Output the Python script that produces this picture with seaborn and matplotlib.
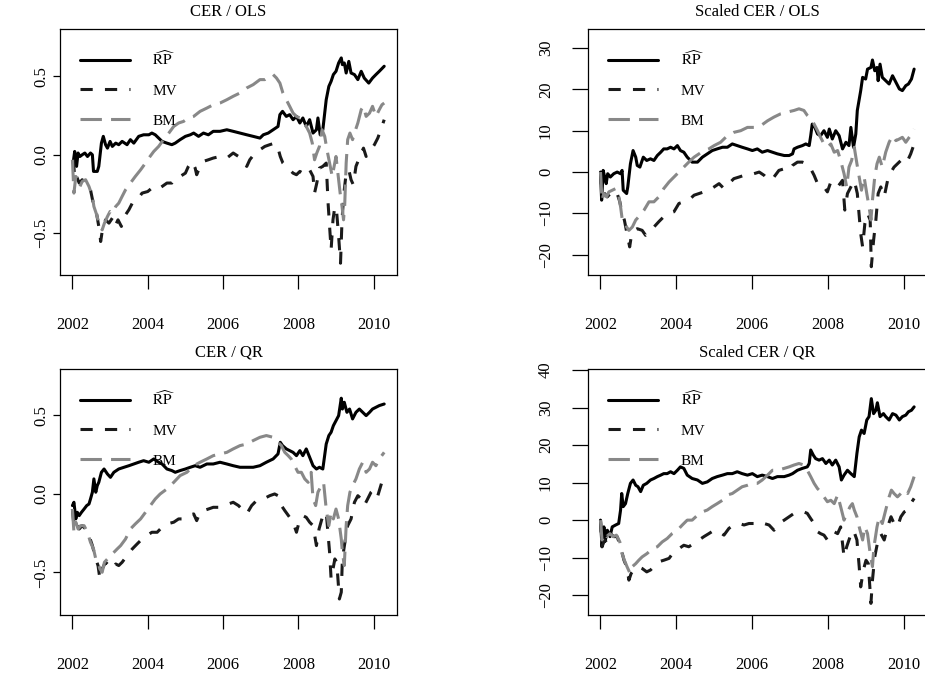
import matplotlib
matplotlib.use("Agg")
import matplotlib.pyplot as plt
import pandas as pd
import seaborn as sns

# ---------------------------------------------------------------------------
# Cumulative CER series (decimal years, values)
# ---------------------------------------------------------------------------
ols_rp_t = [2002.03, 2002.06, 2002.11, 2002.15, 2002.20, 2002.26, 2002.33, 2002.40, 2002.48, 2002.53,
            2002.56, 2002.66, 2002.70, 2002.77, 2002.82, 2002.88, 2002.93, 2003.00, 2003.06, 2003.15,
            2003.23, 2003.32, 2003.45, 2003.54, 2003.63, 2003.76, 2003.89, 2004.03, 2004.11, 2004.20,
            2004.29, 2004.38, 2004.51, 2004.64, 2004.73, 2004.86, 2005.00, 2005.13, 2005.22, 2005.35,
            2005.48, 2005.61, 2005.74, 2005.92, 2006.10, 2006.27, 2006.45, 2006.63, 2006.80, 2006.98,
            2007.07, 2007.20, 2007.33, 2007.46, 2007.51, 2007.58, 2007.68, 2007.77, 2007.86, 2007.95,
            2008.04, 2008.12, 2008.21, 2008.30, 2008.39, 2008.48, 2008.52, 2008.58, 2008.65, 2008.74,
            2008.81, 2008.87, 2008.93, 2009.00, 2009.07, 2009.14, 2009.17, 2009.22, 2009.27, 2009.34,
            2009.40, 2009.49, 2009.58, 2009.67, 2009.75, 2009.87, 2009.97, 2010.06, 2010.15, 2010.28]
ols_rp_v = [-0.032, 0.021, -0.074, 0.011, -0.011, 0.0, 0.011, -0.011, 0.011, 0.0,
            -0.106, -0.106, -0.074, 0.074, 0.117, 0.064, 0.042, 0.085, 0.053, 0.074,
            0.064, 0.085, 0.064, 0.096, 0.074, 0.117, 0.127, 0.127, 0.138, 0.127,
            0.106, 0.085, 0.074, 0.064, 0.074, 0.096, 0.117, 0.127, 0.138, 0.117,
            0.138, 0.127, 0.149, 0.149, 0.159, 0.149, 0.138, 0.127, 0.117, 0.106,
            0.127, 0.138, 0.159, 0.180, 0.255, 0.276, 0.244, 0.255, 0.223, 0.244,
            0.202, 0.234, 0.180, 0.223, 0.138, 0.159, 0.234, 0.127, 0.159, 0.350,
            0.435, 0.467, 0.510, 0.531, 0.584, 0.616, 0.573, 0.584, 0.520, 0.594,
            0.520, 0.510, 0.478, 0.531, 0.488, 0.456, 0.488, 0.510, 0.531, 0.563]

ols_mv_t = [2002.03, 2002.06, 2002.11, 2002.18, 2002.26, 2002.35, 2002.48, 2002.57, 2002.64, 2002.70,
            2002.75, 2002.81, 2002.88, 2002.97, 2003.06, 2003.13, 2003.21, 2003.30, 2003.38, 2003.50,
            2003.59, 2003.72, 2003.85, 2004.00, 2004.11, 2004.25, 2004.38, 2004.51, 2004.64, 2004.73,
            2004.86, 2005.00, 2005.08, 2005.17, 2005.26, 2005.30, 2005.39, 2005.48, 2005.61, 2005.74,
            2005.92, 2006.10, 2006.27, 2006.41, 2006.54, 2006.63, 2006.71, 2006.85, 2006.98, 2007.11,
            2007.24, 2007.37, 2007.46, 2007.52, 2007.59, 2007.68, 2007.77, 2007.86, 2007.95, 2008.04,
            2008.12, 2008.21, 2008.30, 2008.39, 2008.43, 2008.49, 2008.56, 2008.65, 2008.74, 2008.79,
            2008.83, 2008.87, 2008.92, 2008.97, 2009.02, 2009.07, 2009.12, 2009.16, 2009.21, 2009.27,
            2009.34, 2009.40, 2009.46, 2009.53, 2009.60, 2009.67, 2009.73, 2009.80, 2009.87, 2009.93,
            2010.02, 2010.11, 2010.19, 2010.28]
ols_mv_v = [-0.032, -0.159, -0.138, -0.180, -0.159, -0.180, -0.223, -0.329, -0.372, -0.456,
            -0.552, -0.456, -0.414, -0.435, -0.403, -0.456, -0.414, -0.456, -0.393, -0.350,
            -0.308, -0.287, -0.244, -0.234, -0.212, -0.223, -0.202, -0.180, -0.180, -0.149,
            -0.138, -0.117, -0.074, -0.042, -0.085, -0.127, -0.074, -0.042, -0.032, -0.021,
            -0.011, -0.021, 0.011, -0.011, -0.053, -0.074, -0.032, 0.011, 0.032, 0.053,
            0.064, 0.074, 0.042, -0.011, -0.053, -0.074, -0.096, -0.117, -0.127, -0.106,
            -0.117, -0.085, -0.096, -0.138, -0.244, -0.180, -0.085, -0.074, -0.053, -0.308,
            -0.456, -0.605, -0.414, -0.329, -0.372, -0.520, -0.690, -0.414, -0.244, -0.117,
            -0.096, -0.159, -0.191, -0.074, -0.032, 0.011, 0.042, -0.011, 0.011, 0.032,
            0.064, 0.106, 0.159, 0.223]

ols_bm_t = [2002.00, 2002.04, 2002.09, 2002.13, 2002.20, 2002.26, 2002.35, 2002.44, 2002.53, 2002.57,
            2002.63, 2002.68, 2002.73, 2002.79, 2002.85, 2002.93, 2003.00, 2003.06, 2003.15, 2003.23,
            2003.32, 2003.41, 2003.54, 2003.67, 2003.81, 2003.94, 2004.03, 2004.16, 2004.29, 2004.42,
            2004.56, 2004.69, 2004.82, 2004.95, 2005.08, 2005.22, 2005.39, 2005.57, 2005.74, 2005.92,
            2006.10, 2006.27, 2006.45, 2006.63, 2006.80, 2006.98, 2007.11, 2007.24, 2007.33, 2007.42,
            2007.51, 2007.59, 2007.68, 2007.77, 2007.86, 2007.95, 2008.04, 2008.12, 2008.21, 2008.30,
            2008.37, 2008.43, 2008.49, 2008.56, 2008.63, 2008.70, 2008.76, 2008.83, 2008.90, 2008.95,
            2009.00, 2009.06, 2009.11, 2009.16, 2009.20, 2009.23, 2009.27, 2009.31, 2009.37, 2009.44,
            2009.52, 2009.58, 2009.67, 2009.73, 2009.80, 2009.89, 2009.97, 2010.06, 2010.15, 2010.22,
            2010.28]
ols_bm_v = [-0.032, -0.244, -0.138, -0.159, -0.202, -0.170, -0.159, -0.202, -0.265, -0.329,
            -0.372, -0.414, -0.456, -0.478, -0.435, -0.393, -0.361, -0.372, -0.329, -0.308,
            -0.265, -0.223, -0.180, -0.138, -0.096, -0.053, -0.021, 0.021, 0.053, 0.096,
            0.138, 0.180, 0.202, 0.212, 0.234, 0.244, 0.276, 0.297, 0.318, 0.329,
            0.350, 0.372, 0.393, 0.425, 0.446, 0.478, 0.478, 0.499, 0.510, 0.488,
            0.456, 0.393, 0.350, 0.308, 0.265, 0.244, 0.234, 0.223, 0.180, 0.138,
            0.074, -0.032, 0.011, 0.053, 0.159, 0.117, 0.032, -0.053, -0.138, -0.074,
            -0.011, -0.138, -0.244, -0.329, -0.414, -0.329, -0.053, 0.096, 0.138, 0.096,
            0.159, 0.202, 0.287, 0.308, 0.244, 0.265, 0.308, 0.244, 0.287, 0.318,
            0.329]

sols_rp_t = [2002.00, 2002.03, 2002.07, 2002.11, 2002.15, 2002.19, 2002.26, 2002.35, 2002.44, 2002.53,
             2002.57, 2002.60, 2002.69, 2002.72, 2002.79, 2002.86, 2002.93, 2002.97, 2003.04, 2003.13,
             2003.22, 2003.32, 2003.41, 2003.50, 2003.59, 2003.67, 2003.76, 2003.85, 2003.94, 2004.03,
             2004.11, 2004.20, 2004.29, 2004.42, 2004.56, 2004.69, 2004.82, 2004.95, 2005.08, 2005.22,
             2005.35, 2005.48, 2005.61, 2005.74, 2005.88, 2006.01, 2006.14, 2006.27, 2006.41, 2006.54,
             2006.67, 2006.85, 2006.98, 2007.07, 2007.11, 2007.20, 2007.33, 2007.42, 2007.51, 2007.55,
             2007.59, 2007.66, 2007.73, 2007.81, 2007.90, 2007.99, 2008.04, 2008.12, 2008.21, 2008.30,
             2008.39, 2008.48, 2008.56, 2008.61, 2008.68, 2008.74, 2008.78, 2008.87, 2008.92, 2009.00,
             2009.05, 2009.14, 2009.18, 2009.24, 2009.30, 2009.33, 2009.38, 2009.44, 2009.53, 2009.62,
             2009.71, 2009.80, 2009.89, 2009.97, 2010.06, 2010.13, 2010.21, 2010.28]
sols_rp_v = [0.0, -6.8, 0.4, -1.2, -2.8, -0.4, -1.2, -0.4, 0.0, -0.4,
             0.4, -4.4, -5.2, -3.6, 2.0, 5.2, 3.6, 1.6, 1.2, 3.6,
             2.8, 3.2, 2.8, 4.0, 4.8, 5.6, 5.6, 6.0, 5.6, 6.4,
             5.2, 4.8, 3.6, 2.4, 2.4, 3.6, 4.4, 5.2, 5.6, 6.0,
             6.0, 6.8, 6.4, 6.0, 5.6, 5.2, 5.6, 4.8, 5.2, 4.8,
             4.4, 4.0, 4.0, 4.4, 5.6, 6.0, 6.4, 6.8, 6.4, 8.8,
             11.6, 10.8, 9.2, 8.8, 10.0, 8.4, 10.4, 8.0, 10.0, 8.8,
             5.6, 7.2, 6.4, 10.8, 6.0, 9.2, 14.9, 19.7, 22.9, 22.5,
             24.9, 25.3, 27.1, 24.5, 25.3, 22.1, 26.1, 22.9, 22.1, 21.3,
             23.3, 21.7, 20.1, 19.7, 20.9, 21.3, 22.5, 24.9]

sols_mv_t = [2002.00, 2002.04, 2002.11, 2002.18, 2002.26, 2002.35, 2002.44, 2002.51, 2002.57, 2002.63,
             2002.70, 2002.77, 2002.81, 2002.88, 2002.97, 2003.10, 2003.19, 2003.28, 2003.41, 2003.54,
             2003.67, 2003.81, 2003.94, 2004.07, 2004.20, 2004.33, 2004.47, 2004.60, 2004.73, 2004.86,
             2005.00, 2005.13, 2005.26, 2005.39, 2005.52, 2005.66, 2005.79, 2005.92, 2006.05, 2006.19,
             2006.32, 2006.45, 2006.58, 2006.71, 2006.85, 2006.98, 2007.07, 2007.20, 2007.33, 2007.44,
             2007.55, 2007.64, 2007.73, 2007.81, 2007.90, 2007.99, 2008.08, 2008.17, 2008.26, 2008.39,
             2008.45, 2008.52, 2008.61, 2008.70, 2008.78, 2008.87, 2008.92, 2008.98, 2009.05, 2009.12,
             2009.15, 2009.21, 2009.27, 2009.33, 2009.40, 2009.49, 2009.58, 2009.67, 2009.75, 2009.84,
             2009.93, 2010.02, 2010.11, 2010.19, 2010.28]
sols_mv_v = [0.0, -6.0, -5.2, -6.0, -5.2, -4.4, -5.2, -7.2, -10.0, -11.6,
             -14.9, -18.1, -15.7, -14.1, -13.7, -14.1, -15.3, -14.5, -13.3, -12.0,
             -10.8, -10.0, -9.6, -7.6, -7.2, -6.8, -5.6, -5.2, -4.8, -4.4,
             -3.6, -2.8, -4.0, -2.8, -1.6, -1.2, -0.8, -0.8, -0.4, 0.0,
             -0.8, -2.0, -1.2, 0.4, 0.8, 0.4, 1.6, 2.4, 2.4, 2.0,
             0.8, -0.8, -2.8, -2.8, -3.6, -4.8, -2.4, -2.8, -3.6, -2.0,
             -9.2, -5.2, -3.6, -2.0, -5.2, -14.9, -18.1, -12.4, -10.0, -11.6,
             -22.9, -16.5, -11.6, -5.2, -3.6, -6.0, -2.0, 0.0, 1.2, 2.0,
             2.8, 2.0, 2.8, 4.4, 6.8]

sols_bm_t = [2002.00, 2002.04, 2002.09, 2002.16, 2002.22, 2002.31, 2002.40, 2002.48, 2002.53, 2002.57,
             2002.63, 2002.69, 2002.75, 2002.84, 2002.93, 2003.01, 2003.15, 2003.28, 2003.41, 2003.54,
             2003.67, 2003.81, 2003.94, 2004.07, 2004.20, 2004.33, 2004.47, 2004.60, 2004.73, 2004.86,
             2005.00, 2005.17, 2005.35, 2005.52, 2005.70, 2005.88, 2006.05, 2006.23, 2006.41, 2006.58,
             2006.76, 2006.93, 2007.11, 2007.24, 2007.37, 2007.46, 2007.55, 2007.64, 2007.73, 2007.81,
             2007.90, 2007.99, 2008.08, 2008.17, 2008.26, 2008.34, 2008.43, 2008.50, 2008.56, 2008.63,
             2008.70, 2008.77, 2008.83, 2008.89, 2008.96, 2009.03, 2009.09, 2009.14, 2009.18, 2009.24,
             2009.30, 2009.36, 2009.44, 2009.53, 2009.62, 2009.71, 2009.80, 2009.89, 2009.97, 2010.06,
             2010.15, 2010.22, 2010.28]
sols_bm_v = [0.0, -6.8, -5.2, -6.0, -4.8, -4.4, -4.0, -5.6, -8.4, -11.2,
             -11.6, -13.3, -14.1, -13.3, -11.6, -10.8, -9.2, -7.2, -7.2, -6.0,
             -4.0, -2.4, -1.2, 0.0, 1.2, 2.4, 3.6, 4.4, 5.2, 5.6,
             6.4, 7.2, 8.8, 9.6, 10.0, 10.8, 10.8, 11.2, 12.4, 13.3,
             14.1, 14.5, 14.9, 15.3, 14.9, 13.7, 12.9, 11.6, 10.0, 8.4,
             6.8, 6.0, 6.8, 4.8, 5.2, 2.8, -0.4, -3.6, 1.2, 2.8,
             6.0, 2.0, -1.2, -4.4, -1.2, -5.2, -8.4, -11.6, -6.8, -1.2,
             2.0, 3.6, 1.2, 4.8, 7.2, 8.8, 7.6, 8.0, 8.4, 7.2,
             8.4, 9.2, 10.4]

qr_rp_t = [2002.00, 2002.04, 2002.09, 2002.13, 2002.18, 2002.24, 2002.31, 2002.38, 2002.44, 2002.48,
           2002.53, 2002.57, 2002.62, 2002.66, 2002.70, 2002.77, 2002.84, 2002.93, 2003.01, 2003.10,
           2003.23, 2003.37, 2003.50, 2003.63, 2003.76, 2003.89, 2004.03, 2004.16, 2004.29, 2004.38,
           2004.51, 2004.64, 2004.73, 2004.86, 2005.00, 2005.13, 2005.26, 2005.39, 2005.57, 2005.74,
           2005.92, 2006.10, 2006.27, 2006.45, 2006.63, 2006.80, 2006.98, 2007.15, 2007.33, 2007.46,
           2007.52, 2007.58, 2007.68, 2007.77, 2007.86, 2007.95, 2008.04, 2008.12, 2008.21, 2008.30,
           2008.39, 2008.48, 2008.56, 2008.65, 2008.74, 2008.81, 2008.87, 2008.93, 2009.00, 2009.07,
           2009.14, 2009.17, 2009.22, 2009.29, 2009.36, 2009.44, 2009.53, 2009.62, 2009.71, 2009.80,
           2009.89, 2009.97, 2010.06, 2010.15, 2010.28]
qr_rp_v = [-0.074, -0.053, -0.159, -0.117, -0.138, -0.117, -0.096, -0.074, -0.064, -0.032,
           0.011, 0.096, 0.011, 0.053, 0.074, 0.138, 0.159, 0.127, 0.106, 0.138,
           0.159, 0.170, 0.180, 0.191, 0.202, 0.212, 0.202, 0.223, 0.202, 0.191,
           0.159, 0.149, 0.138, 0.149, 0.159, 0.170, 0.180, 0.170, 0.191, 0.191,
           0.202, 0.191, 0.180, 0.170, 0.170, 0.170, 0.180, 0.202, 0.223, 0.255,
           0.329, 0.308, 0.287, 0.276, 0.265, 0.244, 0.276, 0.244, 0.287, 0.234,
           0.180, 0.159, 0.170, 0.159, 0.318, 0.372, 0.393, 0.435, 0.467, 0.499,
           0.610, 0.541, 0.584, 0.520, 0.541, 0.478, 0.520, 0.541, 0.520, 0.499,
           0.520, 0.541, 0.552, 0.563, 0.573]

qr_mv_t = [2002.00, 2002.04, 2002.11, 2002.18, 2002.26, 2002.35, 2002.44, 2002.53, 2002.62, 2002.68,
           2002.73, 2002.79, 2002.88, 2002.97, 2003.06, 2003.15, 2003.23, 2003.32, 2003.45, 2003.59,
           2003.72, 2003.85, 2003.98, 2004.11, 2004.25, 2004.38, 2004.51, 2004.69, 2004.82, 2004.95,
           2005.08, 2005.22, 2005.30, 2005.39, 2005.48, 2005.61, 2005.74, 2005.88, 2006.01, 2006.14,
           2006.27, 2006.41, 2006.54, 2006.63, 2006.76, 2006.89, 2007.07, 2007.24, 2007.37, 2007.46,
           2007.55, 2007.64, 2007.77, 2007.86, 2007.95, 2008.04, 2008.12, 2008.21, 2008.30, 2008.39,
           2008.48, 2008.55, 2008.65, 2008.74, 2008.83, 2008.87, 2008.92, 2008.97, 2009.02, 2009.09,
           2009.14, 2009.17, 2009.25, 2009.31, 2009.40, 2009.49, 2009.58, 2009.67, 2009.75, 2009.84,
           2009.93, 2010.02, 2010.11, 2010.19, 2010.28]
qr_mv_v = [-0.096, -0.202, -0.180, -0.223, -0.202, -0.223, -0.265, -0.329, -0.414, -0.456,
           -0.541, -0.478, -0.435, -0.456, -0.478, -0.446, -0.456, -0.435, -0.393, -0.350,
           -0.318, -0.287, -0.265, -0.244, -0.244, -0.212, -0.191, -0.180, -0.159, -0.159,
           -0.138, -0.127, -0.170, -0.117, -0.106, -0.096, -0.085, -0.085, -0.074, -0.064,
           -0.053, -0.074, -0.106, -0.127, -0.074, -0.042, -0.032, -0.011, 0.0, -0.011,
           -0.074, -0.106, -0.149, -0.180, -0.244, -0.159, -0.138, -0.149, -0.180, -0.202,
           -0.329, -0.223, -0.138, -0.117, -0.372, -0.541, -0.478, -0.414, -0.435, -0.669,
           -0.626, -0.414, -0.287, -0.202, -0.159, -0.053, -0.011, -0.032, -0.074, -0.032,
           0.011, 0.032, -0.011, 0.053, 0.127]

qr_bm_t = [2002.00, 2002.04, 2002.09, 2002.15, 2002.22, 2002.31, 2002.40, 2002.48, 2002.56, 2002.62,
           2002.68, 2002.73, 2002.79, 2002.85, 2002.93, 2003.01, 2003.10, 2003.19, 2003.28, 2003.41,
           2003.54, 2003.67, 2003.81, 2003.94, 2004.07, 2004.20, 2004.33, 2004.51, 2004.69, 2004.86,
           2005.04, 2005.22, 2005.39, 2005.57, 2005.74, 2005.92, 2006.10, 2006.27, 2006.45, 2006.63,
           2006.80, 2006.98, 2007.15, 2007.33, 2007.46, 2007.55, 2007.64, 2007.73, 2007.81, 2007.90,
           2007.99, 2008.08, 2008.17, 2008.26, 2008.34, 2008.39, 2008.46, 2008.52, 2008.61, 2008.67,
           2008.74, 2008.81, 2008.87, 2008.93, 2009.00, 2009.07, 2009.14, 2009.17, 2009.22, 2009.27,
           2009.31, 2009.37, 2009.44, 2009.53, 2009.62, 2009.71, 2009.80, 2009.89, 2009.97, 2010.06,
           2010.15, 2010.28]
qr_bm_v = [-0.096, -0.244, -0.180, -0.223, -0.202, -0.202, -0.244, -0.308, -0.350, -0.414,
           -0.435, -0.478, -0.499, -0.435, -0.414, -0.393, -0.372, -0.350, -0.329, -0.287,
           -0.223, -0.191, -0.159, -0.117, -0.074, -0.032, 0.0, 0.032, 0.074, 0.117,
           0.138, 0.180, 0.202, 0.223, 0.244, 0.255, 0.265, 0.287, 0.308, 0.318,
           0.340, 0.361, 0.372, 0.361, 0.329, 0.308, 0.265, 0.244, 0.223, 0.180,
           0.138, 0.138, 0.096, 0.074, 0.138, -0.032, -0.074, 0.011, 0.053, 0.074,
           -0.096, -0.202, -0.117, -0.159, -0.096, -0.159, -0.287, -0.372, -0.456, -0.202,
           -0.074, 0.011, 0.053, 0.096, 0.159, 0.202, 0.138, 0.159, 0.202, 0.180,
           0.223, 0.265]

sqr_rp_t = [2002.00, 2002.04, 2002.09, 2002.13, 2002.18, 2002.25, 2002.31, 2002.40, 2002.48, 2002.53,
            2002.56, 2002.60, 2002.66, 2002.72, 2002.79, 2002.86, 2002.93, 2002.99, 2003.06, 2003.13,
            2003.22, 2003.32, 2003.41, 2003.50, 2003.59, 2003.67, 2003.76, 2003.85, 2003.94, 2004.03,
            2004.11, 2004.20, 2004.29, 2004.42, 2004.56, 2004.69, 2004.82, 2004.95, 2005.08, 2005.22,
            2005.35, 2005.48, 2005.61, 2005.74, 2005.88, 2006.01, 2006.14, 2006.27, 2006.41, 2006.54,
            2006.67, 2006.85, 2006.98, 2007.07, 2007.20, 2007.33, 2007.46, 2007.51, 2007.55, 2007.62,
            2007.68, 2007.77, 2007.86, 2007.95, 2008.04, 2008.12, 2008.21, 2008.30, 2008.36, 2008.43,
            2008.52, 2008.61, 2008.70, 2008.77, 2008.83, 2008.89, 2008.96, 2009.03, 2009.09, 2009.15,
            2009.21, 2009.27, 2009.31, 2009.38, 2009.47, 2009.53, 2009.62, 2009.71, 2009.80, 2009.89,
            2009.97, 2010.06, 2010.13, 2010.21, 2010.28]
sqr_rp_v = [0.0, -7.1, -1.8, -5.3, -2.7, -4.4, -1.8, -1.3, -0.9, 2.7,
            7.1, 3.6, 4.4, 7.1, 9.8, 10.7, 9.3, 8.9, 7.6, 9.3,
            9.8, 10.7, 11.1, 11.6, 12.0, 12.4, 12.4, 12.9, 12.4, 13.3,
            14.2, 13.8, 12.0, 11.1, 10.7, 9.8, 10.2, 11.1, 11.6, 12.0,
            12.4, 12.4, 12.9, 12.4, 12.0, 12.4, 11.6, 12.0, 11.6, 11.1,
            11.6, 11.6, 12.0, 12.4, 13.3, 13.8, 14.2, 15.1, 18.7, 17.3,
            16.4, 16.0, 16.4, 15.1, 16.0, 14.7, 16.0, 14.2, 10.7, 12.0,
            13.3, 12.4, 11.6, 17.8, 22.2, 24.0, 23.1, 26.7, 27.6, 32.4,
            28.4, 29.3, 31.3, 27.6, 28.4, 27.6, 26.7, 28.4, 28.0, 26.7,
            27.6, 28.0, 28.9, 29.3, 30.2]

sqr_mv_t = [2002.00, 2002.04, 2002.11, 2002.18, 2002.26, 2002.35, 2002.44, 2002.53, 2002.62, 2002.69,
            2002.75, 2002.81, 2002.88, 2002.99, 2003.10, 2003.22, 2003.32, 2003.41, 2003.54, 2003.67,
            2003.81, 2003.94, 2004.07, 2004.20, 2004.33, 2004.47, 2004.60, 2004.73, 2004.86, 2005.00,
            2005.13, 2005.26, 2005.39, 2005.52, 2005.66, 2005.79, 2005.92, 2006.05, 2006.19, 2006.32,
            2006.45, 2006.58, 2006.71, 2006.85, 2006.98, 2007.11, 2007.24, 2007.37, 2007.46, 2007.55,
            2007.64, 2007.73, 2007.81, 2007.90, 2007.99, 2008.08, 2008.17, 2008.26, 2008.34, 2008.43,
            2008.50, 2008.59, 2008.68, 2008.77, 2008.83, 2008.87, 2008.94, 2009.01, 2009.07, 2009.14,
            2009.18, 2009.24, 2009.31, 2009.40, 2009.49, 2009.58, 2009.67, 2009.75, 2009.84, 2009.93,
            2010.02, 2010.11, 2010.19, 2010.28]
sqr_mv_v = [0.0, -7.1, -5.3, -6.2, -3.6, -4.4, -4.4, -7.1, -10.7, -12.4,
            -16.0, -14.2, -13.3, -12.4, -12.9, -13.8, -13.3, -12.4, -11.1, -10.7,
            -10.2, -8.4, -7.6, -6.7, -7.1, -6.2, -5.3, -4.4, -3.6, -2.7,
            -3.1, -4.0, -2.2, -1.3, -0.9, -1.3, -0.9, -0.9, -0.4, -0.9,
            -1.3, -2.7, -0.9, 0.0, 0.9, 1.8, 1.8, 2.2, 1.8, 0.4,
            -0.9, -3.1, -3.6, -4.0, -5.3, -3.6, -3.1, -3.6, -1.8, -9.8,
            -7.1, -4.4, -2.7, -5.3, -12.4, -17.8, -13.3, -10.7, -11.6, -22.2,
            -16.0, -9.8, -6.2, -3.6, -5.3, -1.8, 0.9, -0.9, -1.8, 0.9,
            2.2, 2.7, 4.4, 5.8]

sqr_bm_t = [2002.00, 2002.04, 2002.09, 2002.16, 2002.25, 2002.33, 2002.42, 2002.51, 2002.57, 2002.63,
            2002.70, 2002.78, 2002.84, 2002.93, 2003.01, 2003.10, 2003.23, 2003.37, 2003.50, 2003.63,
            2003.76, 2003.89, 2004.03, 2004.16, 2004.29, 2004.42, 2004.56, 2004.69, 2004.82, 2004.95,
            2005.08, 2005.22, 2005.35, 2005.48, 2005.61, 2005.74, 2005.88, 2006.01, 2006.14, 2006.27,
            2006.41, 2006.54, 2006.67, 2006.85, 2006.98, 2007.11, 2007.24, 2007.37, 2007.46, 2007.55,
            2007.64, 2007.73, 2007.81, 2007.90, 2007.99, 2008.08, 2008.17, 2008.26, 2008.34, 2008.43,
            2008.50, 2008.59, 2008.65, 2008.70, 2008.77, 2008.83, 2008.92, 2008.98, 2009.05, 2009.12,
            2009.18, 2009.22, 2009.30, 2009.36, 2009.44, 2009.53, 2009.62, 2009.68, 2009.75, 2009.84,
            2009.93, 2010.02, 2010.11, 2010.19, 2010.28]
sqr_bm_v = [0.0, -5.3, -3.6, -4.4, -3.6, -4.4, -4.0, -5.8, -8.9, -10.7,
            -12.4, -14.2, -12.4, -11.6, -10.7, -9.8, -8.9, -7.6, -7.1, -5.8,
            -4.9, -3.6, -2.7, -1.3, 0.0, 0.0, 1.3, 2.2, 2.7, 3.6,
            4.4, 5.3, 6.7, 7.1, 8.0, 8.9, 9.3, 9.8, 9.8, 10.7,
            12.0, 13.3, 13.3, 13.8, 14.2, 14.7, 15.1, 14.7, 13.3, 11.6,
            9.8, 8.4, 7.6, 6.2, 4.9, 5.3, 4.4, 6.7, 3.6, 0.0,
            1.8, 3.6, 4.4, 2.7, 0.9, -1.8, -5.3, -1.8, -3.6, -8.9,
            -12.4, -7.1, -1.8, 0.9, -0.9, 2.7, 6.2, 8.0, 7.1, 6.2,
            7.1, 8.0, 7.1, 8.9, 11.6]

# Series labels, x ticks, y ticks per panel
series_names = [r"$\widehat{\mathrm{RP}}$", "MV", "BM"]
year_ticks = [2002, 2004, 2006, 2008, 2010]
cer_ticks = [-0.5, 0.0, 0.5]
scaled_ols_ticks = [-20, -10, 0, 10, 20, 30]
scaled_qr_ticks = [-20, -10, 0, 10, 20, 30, 40]

# ---------------------------------------------------------------------------
# Style
# ---------------------------------------------------------------------------
sns.set_theme(style="ticks")
plt.rcParams.update({
    "font.family": ["Liberation Serif", "DejaVu Serif"],
    "mathtext.fontset": "stix",
    "axes.linewidth": 0.9,
    "axes.edgecolor": "black",
    "text.color": "black",
    "xtick.color": "black",
    "ytick.color": "black",
    "axes.unicode_minus": True,
})

palette = dict(zip(series_names, ["#000000", "#1a1a1a", "#888888"]))
dash_map = dict(zip(series_names, ["", (4, 4), (7, 3)]))

W, H = 925, 679
fig = plt.figure(figsize=(W / 100, H / 100), dpi=100)


def panel_axes(left, right, top, bottom):
    return fig.add_axes([left / W, 1 - bottom / H, (right - left) / W, (bottom - top) / H])


def fmt_tick(v, decimals):
    s = f"{v:.{decimals}f}"
    return s.replace("-", "\u2212")


panels = [
    dict(title="CER / OLS", box=(60, 397, 29, 275), ylim=(-0.765, 0.80), yticks=cer_ticks, dec=1,
         ytick_len=5, ytick_pad=2.5,
         series=[(ols_rp_t, ols_rp_v), (ols_mv_t, ols_mv_v), (ols_bm_t, ols_bm_v)]),
    dict(title="Scaled CER / OLS", box=(588, 927, 29, 275), ylim=(-24.9, 34.6), yticks=scaled_ols_ticks, dec=0,
         ytick_len=11.5, ytick_pad=13,
         series=[(sols_rp_t, sols_rp_v), (sols_mv_t, sols_mv_v), (sols_bm_t, sols_bm_v)]),
    dict(title="CER / QR", box=(60, 397, 369, 615), ylim=(-0.771, 0.796), yticks=cer_ticks, dec=1,
         ytick_len=5, ytick_pad=2.5,
         series=[(qr_rp_t, qr_rp_v), (qr_mv_t, qr_mv_v), (qr_bm_t, qr_bm_v)]),
    dict(title="Scaled CER / QR", box=(588, 927, 369, 615), ylim=(-25.3, 40.3), yticks=scaled_qr_ticks, dec=0,
         ytick_len=11.5, ytick_pad=13,
         series=[(sqr_rp_t, sqr_rp_v), (sqr_mv_t, sqr_mv_v), (sqr_bm_t, sqr_bm_v)]),
]

for p in panels:
    ax = panel_axes(*p["box"])
    frames = [pd.DataFrame({"year": t, "value": v, "series": name})
              for name, (t, v) in zip(series_names, p["series"])]
    df = pd.concat(frames, ignore_index=True)

    sns.lineplot(data=df, x="year", y="value", hue="series", style="series",
                 hue_order=series_names, style_order=series_names,
                 palette=palette, dashes=dash_map, linewidth=2.2,
                 estimator=None, sort=False, ax=ax)

    ax.set_xlim(2001.67, 2010.62)
    ax.set_ylim(*p["ylim"])
    ax.set_xticks(year_ticks, [str(y) for y in year_ticks])
    ax.set_yticks(p["yticks"], [fmt_tick(v, p["dec"]) for v in p["yticks"]],
                  rotation=90, va="center")
    ax.set_xlabel("")
    ax.set_ylabel("")
    ax.tick_params(axis="x", direction="out", length=10, width=0.9, pad=20, labelsize=12)
    ax.tick_params(axis="y", direction="out", length=p["ytick_len"], width=0.9,
                   pad=p["ytick_pad"], labelsize=12)
    for side in ["top", "right", "bottom", "left"]:
        ax.spines[side].set_visible(True)
        ax.spines[side].set_linewidth(0.9)
    ax.set_title(p["title"], fontsize=12, pad=9)

    sns.move_legend(ax, "upper left", bbox_to_anchor=(0.059, 0.918), frameon=False,
                    title=None, borderpad=0, borderaxespad=0, handlelength=3.3,
                    handletextpad=1.45, labelspacing=1.05, fontsize=11)
    for line in ax.get_legend().get_lines():
        line.set_linewidth(2.2)

fig.savefig("out.png", dpi=100)
